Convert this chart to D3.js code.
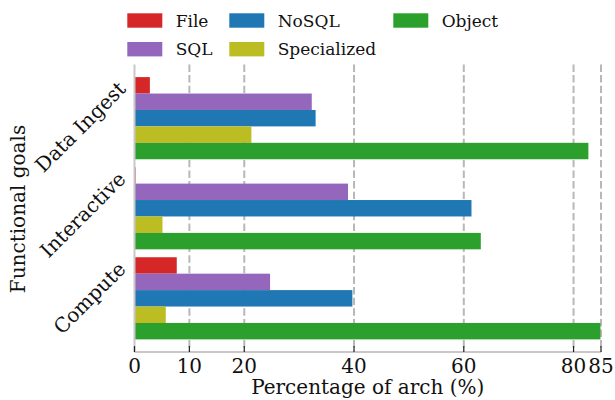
<!DOCTYPE html>
<html>
<head>
<meta charset="utf-8">
<script src="https://cdn.jsdelivr.net/npm/d3@7"></script>
<style>
  body { margin: 0; background: #fff; }
  svg { display: block; }
  text { font-family: "DejaVu Serif", serif; fill: #111; }
</style>
</head>
<body>
<svg id="chart" width="615" height="400"></svg>
<script>
// ---- data ----
const categories = ["Data Ingest", "Interactive", "Compute"];
const seriesNames = ["File", "SQL", "NoSQL", "Specialized", "Object"];
const fileValues        = [2.8, 0.2, 7.7];
const sqlValues         = [32.3, 38.9, 24.7];
const nosqlValues       = [33.0, 61.4, 39.7];
const specializedValues = [21.3, 5.1, 5.7];
const objectValues      = [82.7, 63.1, 84.9];
const xTicks = [0, 10, 20, 40, 60, 80, 85];
const colors = ["#d62728", "#9467bd", "#1f77b4", "#bcbd22", "#2ca02c"];
const xLabel = "Percentage of arch (%)";
const yLabel = "Functional goals";

const seriesValues = [fileValues, sqlValues, nosqlValues, specializedValues, objectValues];

const svg = d3.select("#chart");
const FS = 20;      // axis text
const LFS = 17;     // legend text
const plot = { left: 134.5, right: 601, top: 64.5, bottom: 352 };

const x = d3.scaleLinear().domain([0, 85]).range([plot.left, plot.right]);
const yGroup = d3.scaleBand().domain(categories)
  .range([plot.top, plot.bottom]).paddingInner(0.088).paddingOuter(0.14);
const ySeries = d3.scaleBand().domain(seriesNames).range([0, yGroup.bandwidth()]).padding(0);

// gridlines
svg.append("g").selectAll("line").data(xTicks.filter(t => t > 0)).join("line")
  .attr("x1", d => x(d)).attr("x2", d => x(d))
  .attr("y1", plot.top).attr("y2", plot.bottom)
  .attr("stroke", "#b8b8b8").attr("stroke-width", 2)
  .attr("stroke-dasharray", "7.4,3.2");

// bars
const bars = svg.append("g");
categories.forEach((c, ci) => {
  seriesNames.forEach((s, si) => {
    bars.append("rect")
      .attr("x", x(0))
      .attr("y", yGroup(c) + ySeries(s))
      .attr("width", x(seriesValues[si][ci]) - x(0))
      .attr("height", ySeries.bandwidth())
      .attr("fill", colors[si]);
  });
});

// spines
svg.append("line").attr("x1", plot.left).attr("x2", plot.left)
  .attr("y1", plot.top).attr("y2", plot.bottom)
  .attr("stroke", "#c8c8c8").attr("stroke-width", 2);
svg.append("line").attr("x1", plot.left).attr("x2", plot.right)
  .attr("y1", plot.bottom).attr("y2", plot.bottom)
  .attr("stroke", "#c8c8c8").attr("stroke-width", 2);

// x axis ticks (inward) and labels
const xa = svg.append("g");
xa.selectAll("line").data(xTicks).join("line")
  .attr("x1", d => x(d)).attr("x2", d => x(d))
  .attr("y1", plot.bottom - 6).attr("y2", plot.bottom)
  .attr("stroke", "#222").attr("stroke-width", 1.2);
xa.selectAll("text").data(xTicks).join("text")
  .attr("x", d => x(d)).attr("y", 372.5)
  .attr("text-anchor", "middle").attr("font-size", FS)
  .text(d => d);

svg.append("text").attr("x", (plot.left + plot.right) / 2).attr("y", 393.5)
  .attr("text-anchor", "middle").attr("font-size", FS).text(xLabel);

// y category labels rotated
categories.forEach(c => {
  const cy = yGroup(c) + yGroup.bandwidth() / 2;
  svg.append("text")
    .attr("transform", `translate(127,${cy - 28}) rotate(-45)`)
    .attr("text-anchor", "end").attr("font-size", FS)
    .text(c);
});

svg.append("text")
  .attr("transform", `translate(25,209) rotate(-90)`)
  .attr("text-anchor", "middle").attr("font-size", FS).text(yLabel);

// legend (column-major, 3 columns)
const legCols = [127.3, 229.3, 393.3];
const legRows = [13.3, 42];
seriesNames.forEach((s, i) => {
  const col = Math.floor(i / 2), row = i % 2;
  const g = svg.append("g");
  g.append("rect").attr("x", legCols[col]).attr("y", legRows[row])
    .attr("width", 35).attr("height", 14.4).attr("fill", colors[i]);
  g.append("text").attr("x", legCols[col] + 48.4).attr("y", legRows[row] + 13.3)
    .attr("font-size", LFS).text(s);
});
</script>
</body>
</html>
